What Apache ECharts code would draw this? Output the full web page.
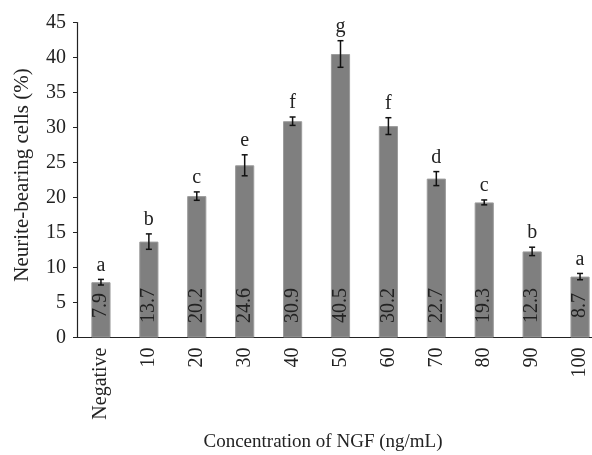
<!DOCTYPE html>
<html>
<head>
<meta charset="utf-8">
<script src="https://cdn.jsdelivr.net/npm/echarts@6/dist/echarts.min.js"></script>
<style>html,body{margin:0;padding:0;background:#fff}#c{width:592px;height:455px}</style>
</head>
<body>
<div id="c"></div>
<script>
var categories = ['Negative','10','20','30','40','50','60','70','80','90','100'];
var values = [7.9,13.7,20.2,24.6,30.9,40.5,30.2,22.7,19.3,12.3,8.7];
var errors = [0.4,1.1,0.6,1.5,0.6,1.9,1.2,1.0,0.35,0.6,0.45];
var letters = ['a','b','c','e','f','g','f','d','c','b','a'];
var yTicks = [0,5,10,15,20,25,30,35,40,45];

var FONT = '"Liberation Serif", "DejaVu Serif", serif';
var errData = values.map(function(v,i){ return [i, v - errors[i], v + errors[i], letters[i]]; });

var chart = echarts.init(document.getElementById('c'));
chart.setOption({
  animation: false,
  textStyle: { fontFamily: FONT },
  grid: { left: 77, top: 22.5, width: 527, height: 315, outerBoundsMode: 'none', containLabel: false },
  xAxis: {
    type: 'category',
    data: categories,
    axisLine: { lineStyle: { color: '#222', width: 1.2 } },
    axisTick: { show: false },
    axisLabel: { rotate: 90, fontFamily: FONT, fontSize: 20, color: '#222', margin: 10 },
    name: 'Concentration of NGF (ng/mL)',
    nameLocation: 'middle',
    nameGap: 95,
    nameTextStyle: { fontFamily: FONT, fontSize: 19, color: '#222', padding: [0, 35, 0, 0] }
  },
  yAxis: {
    type: 'value',
    min: yTicks[0], max: yTicks[yTicks.length-1], interval: 5,
    splitLine: { show: false },
    axisLine: { show: true, lineStyle: { color: '#222', width: 1.2 } },
    axisTick: { show: true, length: 4, lineStyle: { color: '#222' } },
    axisLabel: { fontFamily: FONT, fontSize: 20, color: '#222', margin: 11 },
    name: 'Neurite-bearing cells (%)',
    nameLocation: 'middle',
    nameGap: 44,
    nameTextStyle: { fontFamily: FONT, fontSize: 21, color: '#222', padding: [0, 0, 0, 10] }
  },
  series: [{
    type: 'bar',
    data: values,
    barWidth: '40%',
    itemStyle: { color: '#7f7f7f', borderColor: '#9c9c9c', borderWidth: 1 },
    label: {
      show: true,
      position: 'insideBottom',
      distance: 32,
      rotate: 90,
      align: 'center',
      verticalAlign: 'middle',
      fontFamily: FONT,
      fontSize: 20,
      color: '#222'
    }
  }, {
    type: 'custom',
    data: errData,
    z: 10,
    renderItem: function(params, api){
      var x = api.value(0);
      var lo = api.coord([x, api.value(1)]);
      var hi = api.coord([x, api.value(2)]);
      var cap = 3;
      var st = { stroke: '#111', lineWidth: 1.5 };
      return {
        type: 'group',
        children: [
          { type: 'line', shape: { x1: hi[0], y1: hi[1], x2: lo[0], y2: lo[1] }, style: st },
          { type: 'line', shape: { x1: hi[0]-cap, y1: hi[1], x2: hi[0]+cap, y2: hi[1] }, style: st },
          { type: 'line', shape: { x1: lo[0]-cap, y1: lo[1], x2: lo[0]+cap, y2: lo[1] }, style: st },
          { type: 'text', style: { text: api.value(3), x: hi[0], y: hi[1] - 4, align: 'center', verticalAlign: 'bottom', font: '20px ' + FONT, fill: '#222' } }
        ]
      };
    }
  }]
});
</script>
</body>
</html>
